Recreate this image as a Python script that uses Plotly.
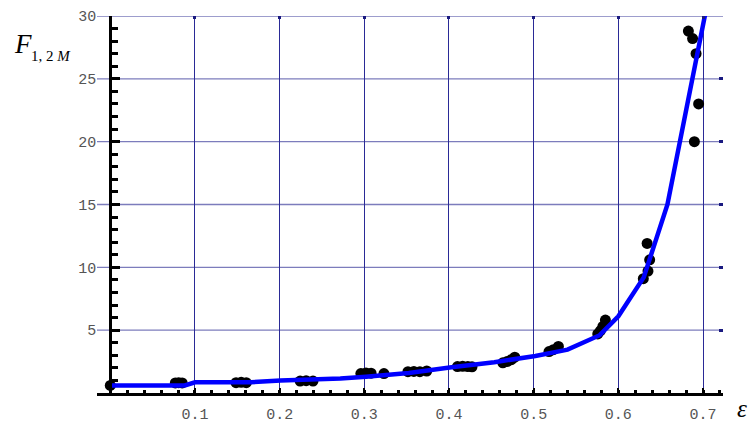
import plotly.graph_objects as go

# Measured points: strain epsilon vs. F_{1,2M}
eps_pts = [0.0, 0.0768, 0.0808, 0.0849, 0.1485, 0.1546, 0.1606, 0.2242, 0.2313, 0.2394,
           0.2959, 0.302, 0.308, 0.3232, 0.3515, 0.3585, 0.3656, 0.3737,
           0.410, 0.4161, 0.4222, 0.4272, 0.4636, 0.4686, 0.4737, 0.4777,
           0.5181, 0.5232, 0.5292, 0.5757, 0.5787, 0.5817, 0.5847,
           0.6295, 0.635, 0.637, 0.634, 0.6827, 0.6877, 0.6898, 0.6918, 0.6948]
f_pts = [0.6, 0.8, 0.82, 0.8, 0.82, 0.85, 0.82, 0.95, 0.98, 0.95,
         1.55, 1.6, 1.58, 1.55, 1.7, 1.72, 1.7, 1.75,
         2.1, 2.12, 2.1, 2.08, 2.4, 2.5, 2.65, 2.85,
         3.3, 3.45, 3.7, 4.7, 4.95, 5.3, 5.8,
         9.1, 9.7, 10.6, 11.9, 28.8, 28.2, 20.0, 27.0, 23.0]

# Model curve
eps_fit = [0.0, 0.088, 0.10, 0.166, 0.201, 0.2515, 0.2717, 0.302, 0.3525, 0.403,
           0.4535, 0.502, 0.540, 0.578, 0.600, 0.630, 0.658, 0.703]
f_fit = [0.6, 0.6, 0.85, 0.85, 1.0, 1.05, 1.15, 1.3, 1.6, 2.05,
         2.45, 2.95, 3.45, 4.6, 6.1, 9.2, 15.0, 30.3]

x_ticks = [0.1, 0.2, 0.3, 0.4, 0.5, 0.6, 0.7]
x_labels = ["0.1", "0.2", "0.3", "0.4", "0.5", "0.6", "0.7"]
y_ticks = [5, 10, 15, 20, 25, 30]
y_labels = ["5", "10", "15", "20", "25", "30"]

X_RANGE = [-0.0157, 0.7236]
Y_RANGE = [0, 30]
HGRID = "#7c7cbc"

tick_font = dict(family="Liberation Mono", size=15, color="#555555")

fig = go.Figure()
fig.add_trace(go.Scatter(
    x=eps_pts, y=f_pts, mode="markers",
    marker=dict(color="black", size=11, line=dict(width=0)),
    cliponaxis=False, showlegend=False,
))
fig.add_trace(go.Scatter(
    x=eps_fit, y=f_fit, mode="lines",
    line=dict(color="#0000ff", width=4.5),
    showlegend=False,
))
# invisible traces activating the frame-tick axis (top) and the value axis at eps=0
fig.add_trace(go.Scatter(x=[None], y=[None], xaxis="x2", yaxis="y",
                         showlegend=False, hoverinfo="skip"))
fig.add_trace(go.Scatter(x=[None], y=[None], xaxis="x", yaxis="y2",
                         showlegend=False, hoverinfo="skip"))

# horizontal grid lines across the full width of the plot area
for v in y_ticks:
    fig.add_shape(type="line", xref="paper", yref="y", x0=0, x1=1, y0=v, y1=v,
                  line=dict(color=HGRID, width=1.3), layer="below")

fig.update_layout(
    width=751, height=424,
    margin=dict(l=97, r=28, t=16, b=31, autoexpand=False),
    plot_bgcolor="white", paper_bgcolor="white",
    xaxis=dict(
        range=X_RANGE, tickvals=x_ticks, ticktext=x_labels, automargin=False,
        showgrid=True, gridcolor="#2a2a96", gridwidth=1,
        zeroline=False,
        showline=True, linecolor="black", linewidth=2.5,
        ticks="inside", ticklen=5, tickwidth=1.5, tickcolor="black",
        minor=dict(dtick=0.02, tick0=0, ticks="inside", ticklen=3,
                   tickwidth=3, tickcolor="black", showgrid=False),
        tickfont=tick_font, ticklabelstandoff=5,
    ),
    # short frame ticks on the right edge
    yaxis=dict(
        range=Y_RANGE, tickvals=y_ticks, showticklabels=False, automargin=False,
        side="right", anchor="x",
        showgrid=False,
        zeroline=False, showline=False,
        ticks="inside", ticklen=4, tickwidth=3, tickcolor="#1a1a80",
    ),
    # value axis drawn through eps = 0
    yaxis2=dict(
        range=Y_RANGE, tickvals=y_ticks, ticktext=y_labels, automargin=False,
        overlaying="y", side="left",
        anchor="free", position=(110.3 - 97) / 626,
        showgrid=False, zeroline=False,
        showline=True, linecolor="black", linewidth=3,
        ticks="inside", ticklen=8, tickwidth=2.5, tickcolor="black",
        minor=dict(dtick=1, tick0=0, ticks="inside", ticklen=6,
                   tickwidth=2.5, tickcolor="black", showgrid=False),
        tickfont=tick_font, ticklabelstandoff=10,
    ),
    xaxis2=dict(
        range=X_RANGE, overlaying="x", side="top", anchor="y", automargin=False,
        tickvals=x_ticks, showticklabels=False, showgrid=False,
        zeroline=False, showline=False,
        ticks="inside", ticklen=3, tickwidth=3, tickcolor="#1a1a80",
    ),
)

fig.add_annotation(
    text="<i>F</i>", xref="paper", yref="paper",
    x=(12 - 97) / 626, y=(393 - 27) / 377, xanchor="left", yanchor="top",
    showarrow=False, font=dict(family="Liberation Serif", size=27, color="black"),
)
fig.add_annotation(
    text="1, 2 <i>M</i>", xref="paper", yref="paper",
    x=(29 - 97) / 626, y=(393 - 46) / 377, xanchor="left", yanchor="top",
    showarrow=False, font=dict(family="Liberation Serif", size=15, color="black"),
)
fig.add_annotation(
    text="<i>ε</i>", xref="paper", yref="paper",
    x=(736 - 97) / 626, y=(393 - 423) / 377, xanchor="left", yanchor="bottom",
    borderpad=0,
    showarrow=False, font=dict(family="Liberation Serif", size=25, color="black"),
)

fig.write_html("out.html")
